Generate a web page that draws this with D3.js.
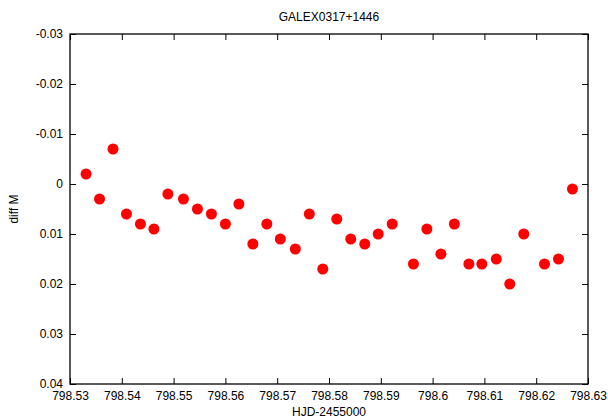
<!DOCTYPE html>
<html>
<head>
<meta charset="utf-8">
<script src="https://cdn.jsdelivr.net/npm/d3@7"></script>
<style>
  html, body { margin: 0; padding: 0; background: #fff; }
  svg text { font-family: "Liberation Sans", Arial, sans-serif; font-size: 12px; fill: #000; }
</style>
</head>
<body>
<svg id="chart" width="608" height="419"></svg>
<script>
// Light curve of GALEX0317+1446: differential magnitude vs. heliocentric Julian date
const hjd = [
  798.5331, 798.5357, 798.5383, 798.5409, 798.5436, 798.5462, 798.5489,
  798.5519, 798.5546, 798.5573, 798.5600, 798.5626, 798.5653, 798.5680,
  798.5706, 798.5735, 798.5762, 798.5788, 798.5815, 798.5842, 798.5869,
  798.5895, 798.5922, 798.5963, 798.5989, 798.6016, 798.6042, 798.6070,
  798.6095, 798.6123, 798.6149, 798.6176, 798.6216, 798.6243, 798.6270
];
const diffM = [
  -0.002, 0.003, -0.007, 0.006, 0.008, 0.009, 0.002,
  0.003, 0.005, 0.006, 0.008, 0.004, 0.012, 0.008,
  0.011, 0.013, 0.006, 0.017, 0.007, 0.011, 0.012,
  0.010, 0.008, 0.016, 0.009, 0.014, 0.008, 0.016,
  0.016, 0.015, 0.020, 0.010, 0.016, 0.015, 0.001
];
const xTicks = [798.53, 798.54, 798.55, 798.56, 798.57, 798.58, 798.59, 798.60, 798.61, 798.62, 798.63];
const yTicks = [-0.03, -0.02, -0.01, 0, 0.01, 0.02, 0.03, 0.04];
const titleText = "GALEX0317+1446";
const xLabel = "HJD-2455000";
const yLabel = "diff M";

const svg = d3.select("#chart");
const margin = { left: 70, right: 20, top: 34, bottom: 35 };
const W = 608, H = 419;
const x0 = margin.left, x1 = W - margin.right, y0 = margin.top, y1 = H - margin.bottom;

const x = d3.scaleLinear().domain([798.53, 798.63]).range([x0, x1]);
// magnitudes: brighter (more negative) at top
const y = d3.scaleLinear().domain([-0.03, 0.04]).range([y0, y1]);

const fmtX = d => d3.format(".2f")(d).replace(/0$/, "");
// plain hyphen-minus for negative tick labels
const fmtY = d => Math.abs(d) < 1e-12 ? "0" : (d < 0 ? "-" : "") + Math.abs(d).toFixed(2);

const tickLen = 6;
const g = svg.append("g");

// bottom axis (ticks inward)
const axBottom = g.append("g").attr("transform", `translate(0,${y1})`)
  .call(d3.axisBottom(x).tickValues(xTicks).tickSize(-tickLen).tickPadding(7).tickFormat(fmtX));
// top mirror
const axTop = g.append("g").attr("transform", `translate(0,${y0})`)
  .call(d3.axisTop(x).tickValues(xTicks).tickSize(-tickLen).tickFormat(""));
// left axis
const axLeft = g.append("g").attr("transform", `translate(${x0},0)`)
  .call(d3.axisLeft(y).tickValues(yTicks).tickSize(-tickLen).tickPadding(7).tickFormat(fmtY));
// right mirror
const axRight = g.append("g").attr("transform", `translate(${x1},0)`)
  .call(d3.axisRight(y).tickValues(yTicks).tickSize(-tickLen).tickFormat(""));

[axBottom, axTop, axLeft, axRight].forEach(a => {
  a.select(".domain").remove();
  a.selectAll(".tick line").attr("stroke", "#000").attr("stroke-width", 1);
  a.selectAll("text").attr("font-family", null).attr("font-size", null).attr("fill", "#000");
});

// frame
svg.append("rect")
  .attr("x", x0).attr("y", y0)
  .attr("width", x1 - x0).attr("height", y1 - y0)
  .attr("fill", "none").attr("stroke", "#000").attr("stroke-width", 1.3);

// data points
svg.append("g").selectAll("circle")
  .data(hjd.map((t, i) => ({ t, m: diffM[i] })))
  .join("circle")
  .attr("cx", d => x(d.t))
  .attr("cy", d => y(d.m))
  .attr("r", 5.5)
  .attr("fill", "#ff0000");

// titles
svg.append("text").attr("x", (x0 + x1) / 2).attr("y", 21)
  .attr("text-anchor", "middle").text(titleText);
svg.append("text").attr("x", (x0 + x1) / 2).attr("y", 416)
  .attr("text-anchor", "middle").text(xLabel);
svg.append("text")
  .attr("transform", `translate(18,${(y0 + y1) / 2}) rotate(-90)`)
  .attr("text-anchor", "middle").text(yLabel);
</script>
</body>
</html>
